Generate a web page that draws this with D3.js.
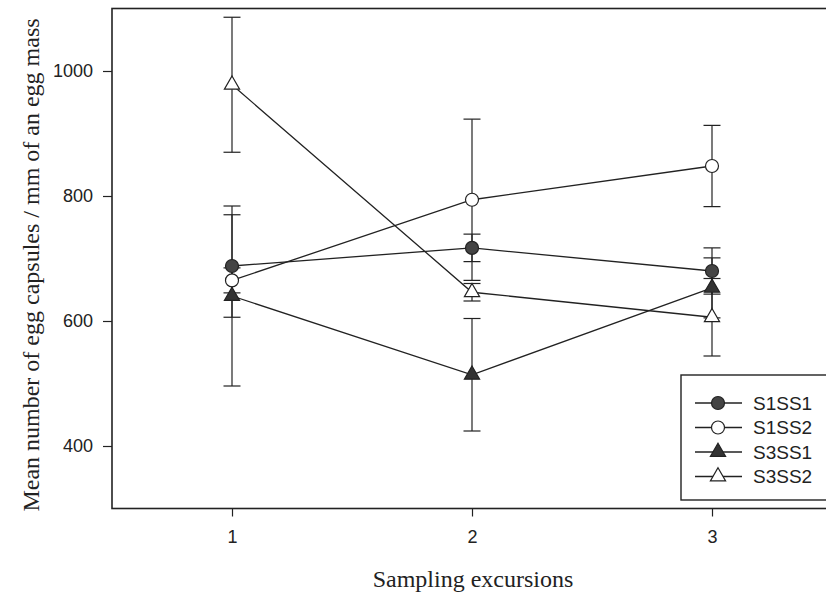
<!DOCTYPE html>
<html>
<head>
<meta charset="utf-8">
<script src="https://cdn.jsdelivr.net/npm/d3@7"></script>
<style>
  body { margin: 0; background: #fff; }
  svg { display: block; }
</style>
</head>
<body>
<svg class="chart" width="826" height="600"></svg>
<script>
'use strict'
// sampling excursions and series (means + standard error)
const excursions = [1, 2, 3]
const seriesNames = ['S1SS1', 'S1SS2', 'S3SS1', 'S3SS2']
const s1ss1 = [688, 717, 680]
const s1ss1Err = [82, 22, 37]
const s1ss2 = [665, 794, 848]
const s1ss2Err = [20, 129, 65]
const s3ss1 = [640, 514, 653]
const s3ss1Err = [144, 90, 48]
const s3ss2 = [978, 646, 606]
const s3ss2Err = [108, 14, 62]
const yTicks = [400, 600, 800, 1000]

window.onload = function() {
    const svg = d3.select('.chart'),
        left = 112,
        right = 832,
        top = 8.5,
        bottom = 508.5

    const x = d3.scaleLinear().domain([0.5, 3.5]).range([left, right]),
        y = d3.scaleLinear().domain([300, 1100]).range([bottom, top])

    const series = [
      {name: seriesNames[0], vals: s1ss1, err: s1ss1Err, shape: 'circle', fill: '#444'},
      {name: seriesNames[1], vals: s1ss2, err: s1ss2Err, shape: 'circle', fill: '#fff'},
      {name: seriesNames[2], vals: s3ss1, err: s3ss1Err, shape: 'triangle', fill: '#333'},
      {name: seriesNames[3], vals: s3ss2, err: s3ss2Err, shape: 'triangle', fill: '#fff'}
    ]

    // axes
    const yAxis = svg.append('g')
      .attr('transform', 'translate(' + left + ',0)')
      .call(d3.axisLeft(y).tickValues(yTicks).tickSize(9).tickPadding(10).tickFormat(d3.format('d')))
    const xAxis = svg.append('g')
      .attr('transform', 'translate(0,' + bottom + ')')
      .call(d3.axisBottom(x).tickValues(excursions).tickSize(8).tickPadding(14).tickFormat(d3.format('d')))
    ;[yAxis, xAxis].forEach(a => {
      a.select('.domain').remove()
      a.selectAll('line').attr('stroke', '#222').attr('stroke-width', 1.2)
      a.selectAll('text').attr('font-family', 'Arial, "Liberation Sans", sans-serif')
        .attr('font-size', 18).attr('fill', '#222')
    })

    // frame
    svg.append('rect')
      .attr('x', left).attr('y', top)
      .attr('width', right - left).attr('height', bottom - top)
      .attr('fill', 'none').attr('stroke', '#222').attr('stroke-width', 1.6)

    // axis titles
    svg.append('text')
      .attr('transform', 'translate(39,' + 265 + ') rotate(-90)')
      .attr('text-anchor', 'middle')
      .attr('font-family', '"Liberation Serif", "Times New Roman", serif')
      .attr('font-size', 24).attr('fill', '#222')
      .text('Mean number of egg capsules / mm of an egg mass')
    svg.append('text')
      .attr('x', 473).attr('y', 587)
      .attr('text-anchor', 'middle')
      .attr('font-family', '"Liberation Serif", "Times New Roman", serif')
      .attr('font-size', 24).attr('fill', '#222')
      .text('Sampling excursions')

    const triangle = d3.symbol().type(d3.symbolTriangle).size(100)

    const drawMarker = function(g, s, cx, cy) {
      if (s.shape === 'circle') {
        g.append('circle').attr('cx', cx).attr('cy', cy).attr('r', 6.5)
          .attr('fill', s.fill).attr('stroke', '#222').attr('stroke-width', 1.2)
      } else {
        g.append('path').attr('d', triangle)
          .attr('transform', 'translate(' + cx + ',' + cy + ')')
          .attr('fill', s.fill).attr('stroke', '#222').attr('stroke-width', 1.2)
      }
    }

    const line = d3.line()
      .x((d, i) => x(excursions[i]))
      .y(d => y(d))

    const plot = svg.append('g')

    // error bars first
    series.forEach(s => {
      const eg = plot.append('g')
      s.vals.forEach((v, i) => {
        const cx = x(excursions[i]),
          hi = y(v + s.err[i]),
          lo = y(v - s.err[i])
        eg.append('line').attr('x1', cx).attr('x2', cx).attr('y1', hi).attr('y2', lo)
          .attr('stroke', '#222').attr('stroke-width', 1.2)
        ;[hi, lo].forEach(c => {
          eg.append('line').attr('x1', cx - 8.5).attr('x2', cx + 8.5).attr('y1', c).attr('y2', c)
            .attr('stroke', '#222').attr('stroke-width', 1.2)
        })
      })
    })

    // lines + markers
    series.forEach(s => {
      plot.append('path').datum(s.vals)
        .attr('d', line)
        .attr('fill', 'none').attr('stroke', '#222').attr('stroke-width', 1.3)
    })
    series.forEach(s => {
      const mg = plot.append('g')
      s.vals.forEach((v, i) => drawMarker(mg, s, x(excursions[i]), y(v)))
    })

    // legend
    const legend = svg.append('g')
    legend.append('rect')
      .attr('x', 681).attr('y', 375).attr('width', 200).attr('height', 125)
      .attr('fill', '#fff').attr('stroke', '#222').attr('stroke-width', 1.4)
    series.forEach((s, i) => {
      const ly = 403 + i * 24.5
      legend.append('line').attr('x1', 695).attr('x2', 742).attr('y1', ly).attr('y2', ly)
        .attr('stroke', '#222').attr('stroke-width', 1.3)
      drawMarker(legend, s, 718, ly)
      legend.append('text')
        .attr('x', 753).attr('y', ly + 6.5)
        .attr('font-family', 'Arial, "Liberation Sans", sans-serif')
        .attr('font-size', 19).attr('fill', '#222')
        .text(s.name)
    })
}
</script>
</body>
</html>
